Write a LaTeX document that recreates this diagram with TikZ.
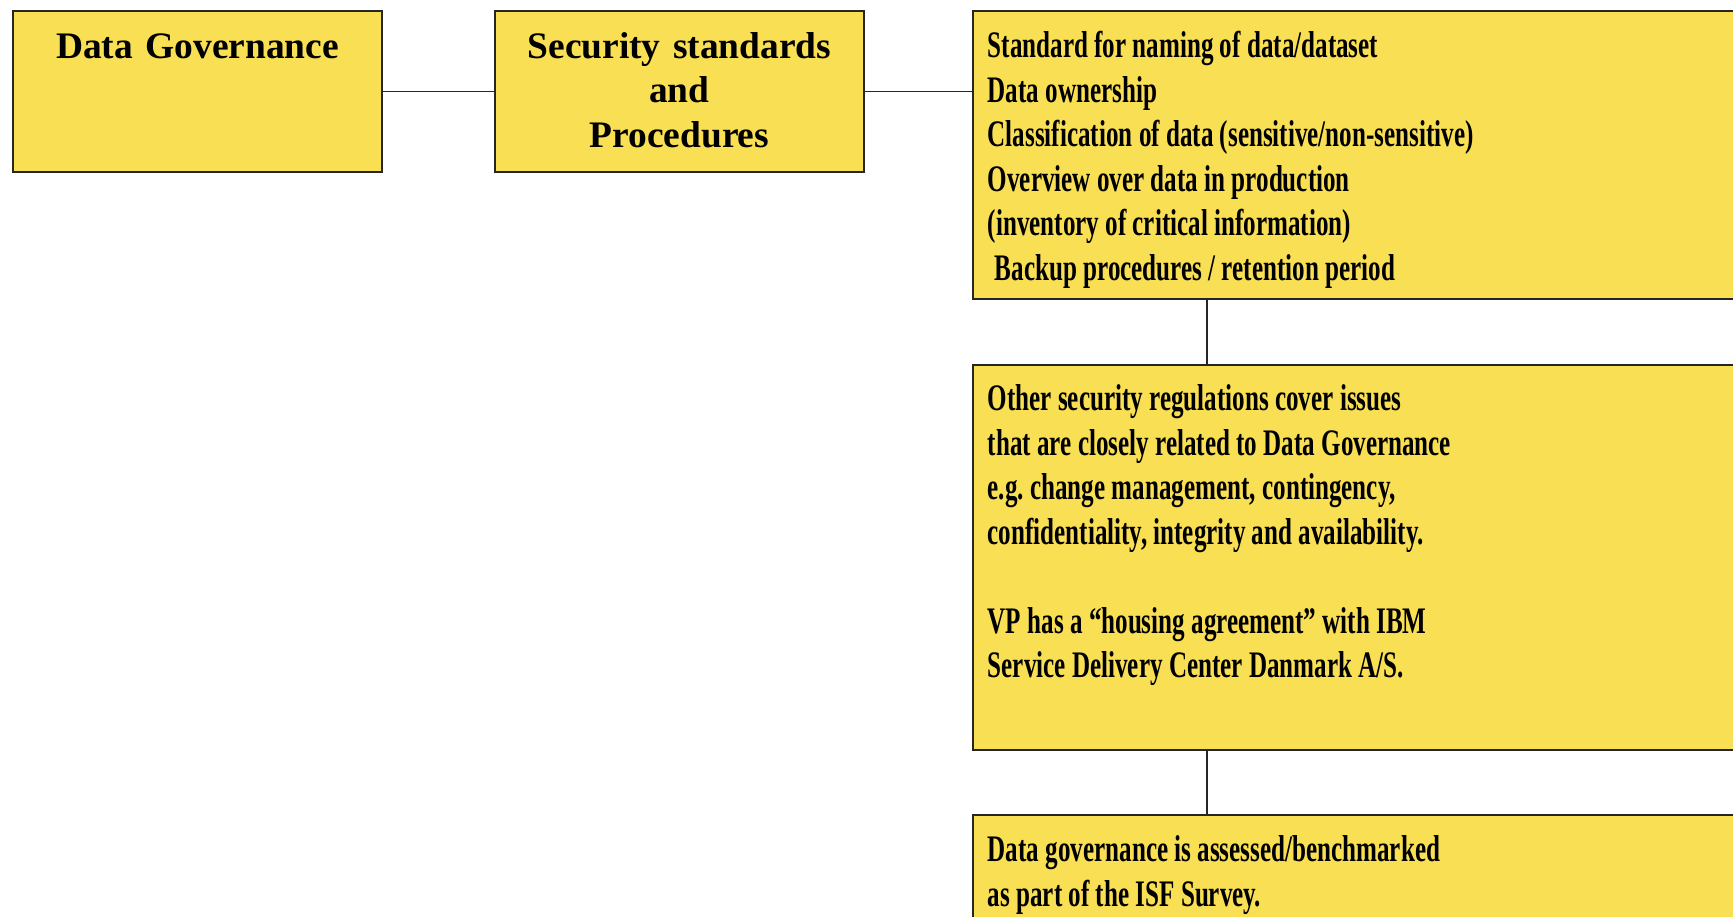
\documentclass[tikz,border=0pt]{standalone}
\usepackage{fontspec}
\setmainfont{Liberation Serif}
\newfontfamily\narrowserif[FakeStretch=0.67]{Liberation Serif}
\newcommand\narrowspaces{\frenchspacing\spaceskip=3.6pt\relax}
\usetikzlibrary{positioning}
\definecolor{boxyellow}{RGB}{249,223,83}
\tikzset{
    box/.style={
        draw = black!85, line width = 1.1pt, fill = boxyellow,
        inner xsep = 0.3cm, inner ysep = 0pt,
        font = \fontsize{21.3}{25.3}\selectfont\bfseries
    },
    headbox/.style={
        box, text width = 6.78cm, align = center,
        text height = 0.95cm, text depth = 2.27cm
    },
    listbox/.style={
        box, text width = 14.84cm, align = left,
        font = \fontsize{21.3}{25.3}\selectfont\narrowserif\bfseries,
        execute at begin node = \narrowspaces
    },
    link/.style = {line width = 0.8pt, draw = black!85}
}

\begin{document}
\begin{tikzpicture}

    \useasboundingbox (0,0) rectangle (34.66,-18.32);

    \node[headbox, anchor = north west] (gov) at (0.24,-0.2) {Data Governance};
    \node[headbox, right = 2.22cm of gov] (sec) {Security standards\\and\\Procedures};
    \node[listbox, text height = 0.94cm, text depth = 4.82cm,
          below right = 0cm and 2.14cm of sec.north east] (std)
        {Standard for naming of data/dataset\\
         Data ownership\\
         Classification of data (sensitive/non-sensitive)\\
         Overview over data in production\\
         (inventory of critical information)\\
         \hspace*{0.14cm}Backup procedures / retention period};
    \node[listbox, text height = 0.92cm, text depth = 6.78cm, below = 1.28cm of std] (other)
        {Other security regulations cover issues\\
         that are closely related to Data Governance\\
         e.g. change management, contingency,\\
         confidentiality, integrity and availability.\\[25.3pt]
         VP has a “housing agreement” with IBM\\
         Service Delivery Center Danmark A/S.};
    \node[listbox, text height = 0.94cm, text depth = 1.5cm, below = 1.26cm of other] (isf)
        {Data governance is assessed/benchmarked\\
         as part of the ISF Survey.};

    \coordinate (drop) at ([xshift = 4.70cm]std.south west);

    \draw[link] (gov) -- (sec);
    \draw[link] (sec) -- (sec -| std.west);
    \draw[link] (drop) -- (drop |- other.north);
    \draw[link] (drop |- other.south) -- (drop |- isf.north);

    %\node[listbox, below = of isf] (audit) {...};

\end{tikzpicture}
\end{document}
